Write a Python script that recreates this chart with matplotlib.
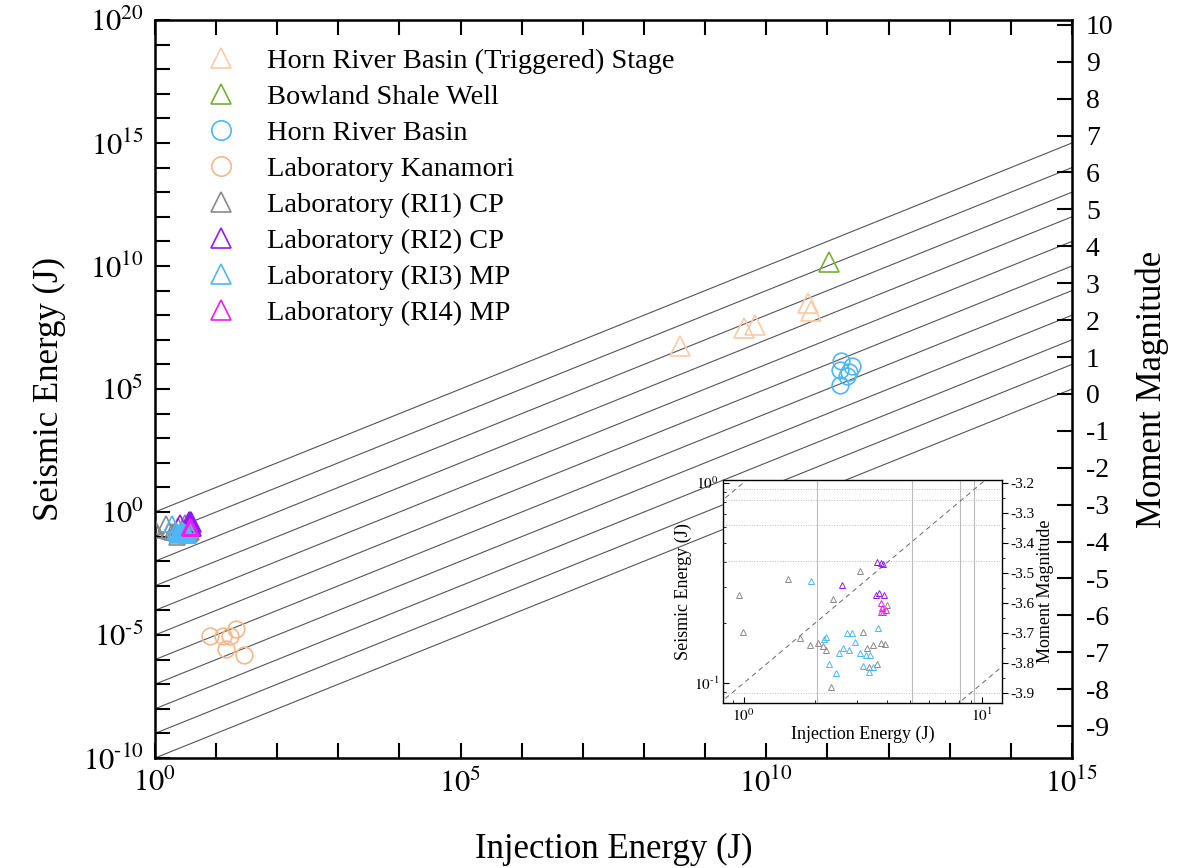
import numpy as np
import matplotlib
matplotlib.use("Agg")
import matplotlib.pyplot as plt
from matplotlib.ticker import FixedLocator, NullFormatter, LogLocator

plt.rcParams['font.family'] = ['Liberation Serif', 'DejaVu Serif']
plt.rcParams['mathtext.fontset'] = 'stix'

# ---- field data (log10 of energy, J) ----
hrb_trig_log_x = [8.59, 9.64, 9.82, 10.69, 10.73]
hrb_trig_log_y = [6.73, 7.46, 7.62, 8.50, 8.16]

bowland_log_x = [11.03]
bowland_log_y = [10.18]

hrb_log_x = [11.22, 11.40, 11.21, 11.32, 11.21, 11.36]
hrb_log_y = [6.15, 5.92, 5.78, 5.51, 5.17, 5.70]

kanamori_log_x = [0.90, 1.11, 1.23, 1.33, 1.17, 1.46]
kanamori_log_y = [-5.03, -5.03, -5.03, -4.76, -5.58, -5.82]

# ---- laboratory data (J) ----
ri1_x = [0.956, 0.993, 1.53, 1.72, 1.89, 2.05, 2.15, 2.22, 2.32, 2.37,
         3.09, 3.18, 3.28, 3.35, 3.49, 3.63, 3.75, 3.90, 3.99]
ri1_y = [0.275, 0.180, 0.330, 0.168, 0.155, 0.158, 0.153, 0.147, 0.096, 0.262,
         0.364, 0.181, 0.149, 0.121, 0.155, 0.125, 0.158, 0.156, 0.245]

ri2_x = [2.59, 3.63, 3.75, 3.84, 3.69, 3.88, 3.60]
ri2_y = [0.309, 0.404, 0.396, 0.392, 0.281, 0.275, 0.276]

ri3_x = [1.92, 2.17, 2.28, 2.43, 2.51, 2.61, 2.72, 2.76, 2.85, 2.94,
         3.09, 3.17, 3.27, 3.35, 3.40, 3.49, 3.67, 2.22]
ri3_y = [0.325, 0.166, 0.125, 0.113, 0.142, 0.149, 0.177, 0.146, 0.177, 0.161,
         0.142, 0.122, 0.138, 0.114, 0.138, 0.120, 0.188, 0.169]

ri4_x = [3.75, 3.81, 3.75, 3.94, 3.85]
ri4_y = [0.250, 0.237, 0.227, 0.232, 0.226]

# energy ratio lines (seismic / injection)
ratio_exponents = list(range(0, -11, -1))
inset_ratio_exponents = [0, -1, -2]

# inset grid positions
inset_vgrid = [2.04, 5.1, 8.1, 9.2]
inset_hgrid = [0.93, 0.82, 0.615, 0.407, 0.0895]

c_trig = '#F9CBA6'
c_bowland = '#76AE3A'
c_hrb = '#4DB8F5'
c_kana = '#F4B88A'
c_ri1 = '#8A8A8A'
c_ri2 = '#8E1CF0'
c_ri3 = '#4DB8F5'
c_ri4 = '#F01CF0'


def mw_from_energy(log_e):
    return (np.asarray(log_e) - 4.8) / 1.5


def pow_label(i):
    if i < 0:
        return r'$10^{\text{-}%d}$' % (-i)
    return r'$10^{%d}$' % i


fig = plt.figure(figsize=(11.81, 8.68), dpi=100)
ax = fig.add_axes([0.1312, 0.1267, 0.7765, 0.8503])

xline = np.array([1.0, 1e15])
for k in ratio_exponents:
    ax.plot(xline, xline * 10.0 ** k, color='#555555', lw=0.8, zorder=1)

mk = dict(ls='none', mfc='none', mew=1.2, zorder=3)
ax.plot(10.0 ** np.array(hrb_trig_log_x), 10.0 ** np.array(hrb_trig_log_y), '^',
        ms=14, mec=c_trig, label='Horn River Basin (Triggered) Stage', **mk)
ax.plot(10.0 ** np.array(bowland_log_x), 10.0 ** np.array(bowland_log_y), '^',
        ms=14, mec=c_bowland, label='Bowland Shale Well', **mk)
ax.plot(10.0 ** np.array(hrb_log_x), 10.0 ** np.array(hrb_log_y), 'o',
        ms=12, mec=c_hrb, label='Horn River Basin', **mk)
ax.plot(10.0 ** np.array(kanamori_log_x), 10.0 ** np.array(kanamori_log_y), 'o',
        ms=12, mec=c_kana, label='Laboratory Kanamori', **mk)
ax.plot(ri1_x, ri1_y, '^', ms=11, mec=c_ri1, label='Laboratory (RI1) CP', **mk)
ax.plot(ri2_x, ri2_y, '^', ms=14, mec=c_ri2, label='Laboratory (RI2) CP', **mk)
ax.plot(ri3_x, ri3_y, '^', ms=11, mec=c_ri3, label='Laboratory (RI3) MP', **mk)
ax.plot(ri4_x, ri4_y, '^', ms=12, mec=c_ri4, label='Laboratory (RI4) MP', **mk)

ax.set_xscale('log')
ax.set_yscale('log')
ax.set_xlim(1, 1e15)
ax.set_ylim(1e-10, 1e20)

xdec = [10.0 ** i for i in range(0, 16)]
ydec = [10.0 ** i for i in range(-10, 21)]
ax.xaxis.set_major_locator(FixedLocator(xdec))
ax.yaxis.set_major_locator(FixedLocator(ydec))
ax.xaxis.set_minor_locator(FixedLocator([]))
ax.yaxis.set_minor_locator(FixedLocator([]))
ax.set_xticklabels([pow_label(i) if i % 5 == 0 else '' for i in range(0, 16)])
ax.set_yticklabels([pow_label(i) if i % 5 == 0 else '' for i in range(-10, 21)])
ax.tick_params(axis='both', which='major', direction='in', length=11, width=1.5,
               labelsize=22, pad=8)
ax.tick_params(axis='x', top=True, right=False)
for s in ax.spines.values():
    s.set_linewidth(1.8)

ax.set_xlabel('Injection Energy (J)', fontsize=25, labelpad=24)
ax.set_ylabel('Seismic Energy (J)', fontsize=25, labelpad=12)

ax2 = ax.twinx()
ax2.set_ylim(mw_from_energy(-10), mw_from_energy(20))
ax2.set_yticks(range(-9, 11))
ax2.set_yticklabels([str(m) for m in range(-9, 11)])
ax2.tick_params(axis='y', direction='in', length=11, width=1.5, labelsize=20, pad=10)
ax2.set_ylabel('Moment Magnitude', fontsize=25, labelpad=16)

leg = ax.legend(loc='upper left', bbox_to_anchor=(0.023, 0.985), frameon=False,
                fontsize=20.4, handletextpad=0.6, labelspacing=0.36, borderaxespad=0.2)
for h in leg.legend_handles:
    h.set_markersize(14)

# ---- inset ----
axi = fig.add_axes([0.6122, 0.1901, 0.2362, 0.2569])
axi.set_facecolor('white')
for v in inset_vgrid:
    axi.axvline(v, color='#BBBBBB', lw=0.8, zorder=0)
for h in inset_hgrid:
    axi.axhline(h, color='#BBBBBB', lw=0.7, ls=':', zorder=0)
xl = np.array([0.5, 20.0])
for k in inset_ratio_exponents:
    axi.plot(xl, xl * 10.0 ** k, color='#666666', lw=0.7, ls=(0, (5, 4)), zorder=1)

mki = dict(ls='none', mfc='none', mew=0.7, ms=5, zorder=3)
axi.plot(ri1_x, ri1_y, '^', mec=c_ri1, **mki)
axi.plot(ri3_x, ri3_y, '^', mec=c_ri3, **mki)
axi.plot(ri2_x, ri2_y, '^', mec=c_ri2, **mki)
axi.plot(ri4_x, ri4_y, '^', mec=c_ri4, **mki)

axi.set_xscale('log')
axi.set_yscale('log')
axi.set_xlim(0.82, 12.1)
axi.set_ylim(0.0797, 1.03)
axi.xaxis.set_major_locator(FixedLocator([1, 10]))
axi.yaxis.set_major_locator(FixedLocator([0.1, 1]))
axi.xaxis.set_minor_locator(LogLocator(base=10, subs=np.arange(2, 10)))
axi.yaxis.set_minor_locator(LogLocator(base=10, subs=np.arange(2, 10)))
axi.xaxis.set_minor_formatter(NullFormatter())
axi.yaxis.set_minor_formatter(NullFormatter())
axi.set_xticklabels([pow_label(0), pow_label(1)])
axi.set_yticklabels([pow_label(-1), pow_label(0)])
axi.tick_params(axis='both', which='both', direction='in', labelsize=11, pad=3)
axi.tick_params(which='major', length=4)
axi.tick_params(which='minor', length=2)
for s in axi.spines.values():
    s.set_linewidth(1.0)
    s.set_color('#444444')
axi.set_xlabel('Injection Energy (J)', fontsize=13, labelpad=1)
axi.set_ylabel('Seismic Energy (J)', fontsize=13, labelpad=1)

axi2 = axi.twinx()
axi2.set_ylim(mw_from_energy(np.log10(0.0797)), mw_from_energy(np.log10(1.03)))
mw_ticks = [-3.9, -3.8, -3.7, -3.6, -3.5, -3.4, -3.3, -3.2]
axi2.set_yticks(mw_ticks)
axi2.set_yticklabels(['%.1f' % m for m in mw_ticks])
axi2.yaxis.set_minor_locator(FixedLocator(np.arange(-3.95, -3.15, 0.1)))
axi2.tick_params(axis='y', which='major', direction='out', length=4, labelsize=11, pad=2)
axi2.tick_params(axis='y', which='minor', direction='out', length=2)
axi2.set_ylabel('Moment Magnitude', fontsize=13, labelpad=2)

fig.savefig('out.png', dpi=100)
